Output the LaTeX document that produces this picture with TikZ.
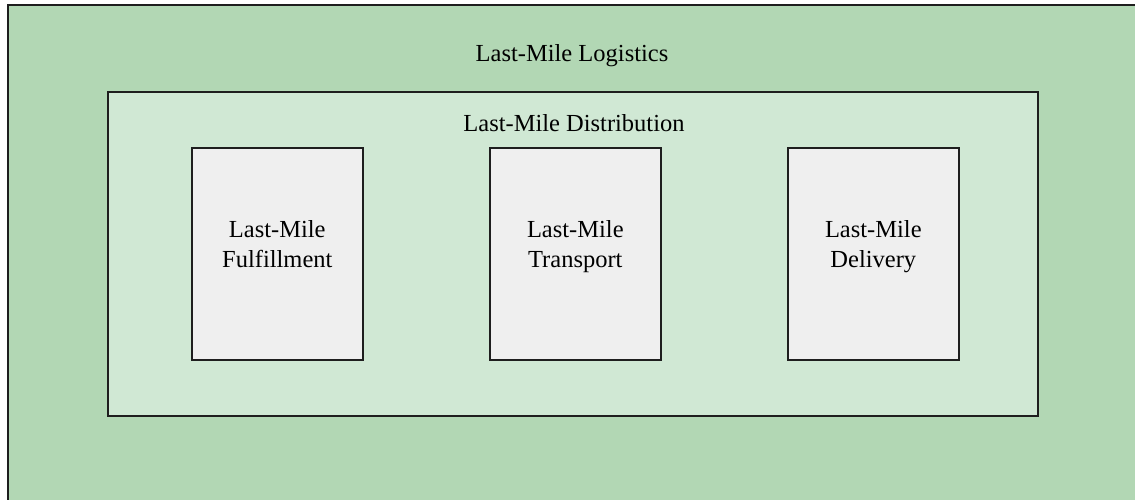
\documentclass[tikz,border=0pt]{standalone}
\usepackage{fontspec}
\setmainfont{Liberation Serif}
\definecolor{logisticsgreen}{RGB}{178,215,180}
\definecolor{distgreen}{RGB}{208,232,212}
\definecolor{stagegray}{RGB}{239,239,239}
\definecolor{edgegray}{RGB}{30,30,30}
\begin{document}
\begin{tikzpicture}[x=1pt,y=-1pt,
  panel/.style={draw=edgegray, line width=1.6pt, anchor=north west, inner sep=0pt},
  stage/.style={panel, fill=stagegray, minimum width=171pt, minimum height=212pt},
  label/.style={font=\fontsize{24.5}{30}\selectfont, text=black, align=center, inner sep=0pt, anchor=base}]
  \useasboundingbox (0,0) rectangle (1135,499);
  \clip (0,0) rectangle (1135,499);
  \fill[white] (0,0) rectangle (1135,499);

  % outer area: logistics, running past the right and bottom edges
  \node[panel, fill=logisticsgreen, minimum width=1200pt, minimum height=560pt] (logistics) at (7,4) {};
  \node[label] (logisticsT) at (572,61) {Last-Mile Logistics};

  % inner area: distribution
  \node[panel, fill=distgreen, minimum width=930pt, minimum height=324pt] (distribution) at (107,91) {};
  \node[label] (distributionT) at (574,131) {Last-Mile Distribution};

  % the three stages
  \node[stage] (fulfillment) at (191,147) {};
  \node[stage] (transport)   at (489,147) {};
  \node[stage] (delivery)    at (787,147) {};
  \node[label] at (fulfillment.center |- 0,267) {Last-Mile\\Fulfillment};
  \node[label] at (transport.center |- 0,267)   {Last-Mile\\Transport};
  \node[label] at (delivery.center |- 0,267)    {Last-Mile\\Delivery};
\end{tikzpicture}
\end{document}
